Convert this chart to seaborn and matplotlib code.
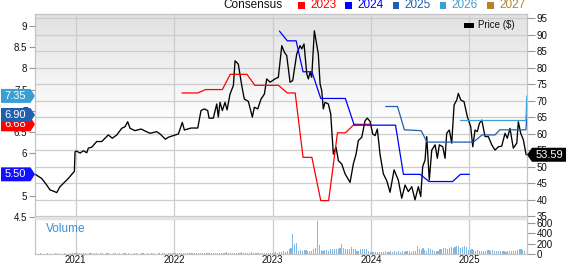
import numpy as np
import matplotlib
matplotlib.use("Agg")
import matplotlib.pyplot as plt
import seaborn as sns
from matplotlib.patches import Rectangle, Polygon

sns.set_style("white")
plt.rcParams['font.family'] = ['Liberation Sans', 'DejaVu Sans']

# ---------------- data (decimal years) ----------------
price_t = [2020.586, 2020.654, 2020.705, 2020.739, 2020.769, 2020.807, 2020.840, 2020.874, 2020.925, 2020.970,
           2020.986, 2020.993, 2021.008, 2021.044, 2021.077, 2021.112, 2021.128, 2021.163, 2021.213, 2021.264,
           2021.298, 2021.331, 2021.372, 2021.417, 2021.467, 2021.501, 2021.528, 2021.552, 2021.603, 2021.664,
           2021.704, 2021.755, 2021.823, 2021.857, 2021.911, 2021.941, 2021.992, 2022.043, 2022.083, 2022.104,
           2022.172, 2022.240, 2022.273, 2022.307, 2022.341, 2022.355, 2022.398, 2022.433, 2022.449, 2022.466,
           2022.490, 2022.517, 2022.538, 2022.568, 2022.602, 2022.619, 2022.652, 2022.687, 2022.713, 2022.754,
           2022.795, 2022.815, 2022.850, 2022.883, 2022.917, 2022.941, 2022.975, 2023.025, 2023.059, 2023.094,
           2023.120, 2023.144, 2023.178, 2023.205, 2023.246, 2023.280, 2023.297, 2023.320, 2023.348, 2023.364,
           2023.381, 2023.398, 2023.425, 2023.465, 2023.483, 2023.500, 2023.516, 2023.533, 2023.567, 2023.591,
           2023.618, 2023.645, 2023.669, 2023.703, 2023.737, 2023.788, 2023.821, 2023.849, 2023.872, 2023.907,
           2023.940, 2023.963, 2023.991, 2024.018, 2024.042, 2024.065, 2024.092, 2024.126, 2024.161, 2024.194,
           2024.235, 2024.278, 2024.313, 2024.347, 2024.380, 2024.415, 2024.448, 2024.482, 2024.506, 2024.526,
           2024.550, 2024.567, 2024.593, 2024.618, 2024.652, 2024.675, 2024.695, 2024.730, 2024.753, 2024.770,
           2024.797, 2024.821, 2024.845, 2024.872, 2024.888, 2024.913, 2024.946, 2024.980, 2025.014, 2025.035,
           2025.058, 2025.081, 2025.102, 2025.126, 2025.160, 2025.193, 2025.228, 2025.261, 2025.295, 2025.329,
           2025.363, 2025.386, 2025.413, 2025.447, 2025.482, 2025.498, 2025.522, 2025.549, 2025.577]
price_v = [47.7, 46.4, 44.4, 42.9, 42.6, 42.1, 43.9, 44.9, 46.4, 48.0,
           48.5, 54.5, 54.7, 54.1, 54.8, 54.2, 55.6, 55.9, 57.6, 57.6,
           58.6, 59.6, 58.6, 59.6, 61.6, 62.1, 63.6, 61.6, 60.9, 61.4,
           60.8, 60.1, 60.6, 59.9, 58.3, 58.9, 59.4, 59.9, 63.4, 61.1,
           61.7, 61.7, 67.0, 67.5, 67.0, 64.7, 64.7, 69.0, 65.0, 69.5,
           67.0, 69.5, 67.2, 72.0, 74.6, 82.1, 81.1, 74.6, 70.5, 69.8,
           65.0, 68.0, 67.5, 70.5, 72.0, 76.6, 75.6, 76.6, 77.1, 86.7,
           84.7, 83.7, 75.6, 76.1, 84.2, 86.7, 85.7, 87.2, 78.1, 76.6,
           78.6, 77.1, 91.2, 84.2, 75.1, 73.0, 67.5, 69.5, 69.0, 66.0,
           53.8, 55.9, 51.8, 50.8, 47.8, 45.2, 50.8, 53.8, 57.9, 58.9,
           63.9, 64.7, 63.7, 59.9, 59.4, 61.4, 53.8, 47.8, 45.7, 42.2,
           49.0, 45.9, 40.4, 44.4, 42.4, 43.9, 39.9, 43.9, 40.9, 50.0,
           52.0, 59.1, 45.9, 55.0, 56.6, 52.5, 56.6, 56.0, 52.5, 60.1,
           61.1, 57.1, 68.7, 70.2, 72.2, 70.2, 69.7, 65.1, 62.1, 56.0,
           61.1, 60.6, 63.1, 64.1, 59.1, 59.1, 56.6, 55.0, 56.0, 56.2,
           60.1, 58.6, 61.6, 55.6, 57.1, 63.6, 60.1, 58.1, 53.59]

c2023_t = [2022.08, 2022.24, 2022.32, 2022.49, 2022.57, 2022.74, 2022.82, 2023.06, 2023.15,
           2023.23, 2023.31, 2023.40, 2023.49, 2023.57, 2023.66, 2023.74, 2023.83, 2024.00]
c2023_v = [7.42, 7.42, 7.50, 7.50, 7.86, 7.86, 7.60, 7.60, 7.42,
           7.42, 5.90, 5.90, 4.88, 4.88, 6.48, 6.48, 6.68, 6.68]
c2024_t = [2023.07, 2023.15, 2023.24, 2023.31, 2023.40, 2023.49, 2023.74, 2023.83,
           2024.25, 2024.33, 2024.50, 2024.59, 2024.83, 2024.91, 2025.00]
c2024_v = [8.88, 8.65, 8.65, 7.92, 7.92, 7.29, 7.29, 6.66,
           6.66, 5.50, 5.50, 5.33, 5.33, 5.50, 5.50]
c2025_t = [2024.15, 2024.27, 2024.34, 2024.51, 2024.57, 2025.04, 2025.13, 2025.26, 2025.31, 2025.575, 2025.585]
c2025_v = [7.10, 7.10, 6.55, 6.53, 6.26, 6.26, 6.43, 6.43, 6.55, 6.55, 6.90]
c2026_t = [2024.91, 2025.575, 2025.585]
c2026_v = [6.77, 6.77, 7.35]

years = ['2023', '2024', '2025', '2026', '2027']
year_colors = ['#ff0000', '#0000ff', '#1f5fae', '#3a9fd4', '#b5812b']

# weekly volume (thousands), starting mid-Aug 2020
vol_v = [8, 6, 10, 7, 5, 9, 12, 6, 8, 7, 10, 14, 9, 6, 8, 11, 7, 9, 12, 15, 10,
         18, 25, 14, 12, 10, 16, 9, 11, 13, 8, 10, 12, 9,
         14, 11, 8, 10, 13, 9, 7, 12, 10, 8, 11, 9, 15,
         10, 8, 12, 9, 7, 10, 11, 8, 9, 13, 10, 8, 12,
         9, 11, 10, 7, 9, 12, 8, 10, 11, 9, 13, 10, 12,
         12, 15, 10, 18, 14, 11, 20, 13, 16, 12, 10, 14, 17,
         13, 11, 15, 19, 12, 14, 10, 16, 13, 18, 12, 15, 11,
         14, 17, 38, 13, 12, 16, 11, 15, 20, 13, 35, 12, 14,
         16, 11, 42, 13, 15, 18, 12, 14, 22, 16, 13, 19, 25,
         28, 22, 30, 25, 32, 45, 65, 40, 52, 104, 116, 395, 194, 213, 60, 75, 52, 70, 84, 52,
         60, 52, 90, 116, 647, 168, 84, 60, 75, 84, 60, 90, 100, 90, 97, 90, 110, 194, 116, 97,
         104, 90, 129, 104, 90, 65, 52, 97, 104, 104, 90, 52,
         45, 35, 40, 30, 48, 38, 42, 32, 50, 40, 36, 65, 45, 55, 40, 60, 48, 52, 42, 58,
         50, 62, 45, 55, 60, 149, 97, 70, 116, 84, 65, 116, 90, 75, 65, 52, 60, 90, 104, 110,
         116, 97, 110, 129, 110, 142, 149, 162, 120, 136, 149, 136, 84,
         70, 104, 75, 65, 70, 65, 58, 52, 60, 70, 84, 65, 70, 58, 52, 60, 50, 58, 52, 45,
         55, 60, 50, 58, 62, 70, 90, 97, 75, 60]
vol_t = list(2020.60 + np.arange(len(vol_v)) / 52.18)

x_ticks = [2021, 2022, 2023, 2024, 2025]
x_labels = ['2021', '2022', '2023', '2024', '2025']
price_ticks = list(range(35, 100, 5))
eps_ticks = [4.5, 5, 5.5, 6, 6.5, 7, 7.5, 8, 8.5, 9]
vol_ticks = [0, 200, 400, 600]

# ---------------- layout ----------------
W, H = 568, 264
fig = plt.figure(figsize=(W / 100, H / 100), dpi=100)


def px_rect(x0, y0, x1, y1):
    return [x0 / W, 1 - y1 / H, (x1 - x0) / W, (y1 - y0) / H]


XL = (2020.586, 2025.586)
grid_c = '#cccccc'
spine_c = '#c4c4c4'

ax = fig.add_axes(px_rect(35, 14, 527, 217))      # price axis (right)
axv = fig.add_axes(px_rect(35, 219, 527, 254))    # volume axis

# gradient background
g = np.ones((200, 1, 3))
ramp = np.clip(np.linspace(0, 1, 200) / 0.55, 0, 1)
shade = 0.885 + (1 - 0.885) * ramp
for k in range(3):
    g[:, 0, k] = shade
ax.imshow(g, extent=[0, 1, 0, 1], transform=ax.transAxes, aspect='auto', zorder=0,
          interpolation='bilinear')

sns.lineplot(x=price_t, y=price_v, ax=ax, color='black', linewidth=0.95,
             estimator=None, sort=False, zorder=4)

# EPS axis (left)
ax2 = ax.twinx()
for yr, tt, vv in zip(years, [c2023_t, c2024_t, c2025_t, c2026_t],
                      [c2023_v, c2024_v, c2025_v, c2026_v]):
    sns.lineplot(x=tt, y=vv, ax=ax2, color=year_colors[years.index(yr)], linewidth=0.9,
                 estimator=None, sort=False)

ax.set_xlim(*XL)
ax.set_ylim(34.7, 96.3)
ax.set_yticks(price_ticks)
ax.set_xticks(x_ticks)
ax.grid(True, color=grid_c, linewidth=0.9)
ax.set_axisbelow(True)
ax.yaxis.tick_right()
ax.tick_params(axis='y', which='both', right=True, left=False, labelleft=False, labelright=True,
               length=6, width=0.8, color='#999999', labelsize=7, pad=1, labelcolor='#111111')
ax.tick_params(axis='x', length=0, labelbottom=False)
ax.set_xlabel('')
ax.set_ylabel('')
for s in ax.spines.values():
    s.set_color(spine_c)
    s.set_linewidth(0.9)

ax2.set_xlim(*XL)
ax2.set_ylim(4.493, 9.283)
ax2.set_yticks(eps_ticks)
ax2.set_yticklabels(['%g' % v for v in eps_ticks])
ax2.yaxis.tick_left()
ax2.tick_params(axis='y', left=True, right=False, labelleft=True, labelright=False,
                length=4.5, width=0.8, color='#999999', labelsize=7, pad=1,
                labelcolor='#111111')
ax2.set_xlabel('')
ax2.set_ylabel('')
ax2.grid(False)
for s in ax2.spines.values():
    s.set_visible(False)

# volume
axv.set_facecolor('white')
sns.barplot(x=vol_t, y=vol_v, ax=axv, native_scale=True, color='#7fb9e4', saturation=1,
            width=0.6, linewidth=0, errorbar=None)
axv.set_xlim(*XL)
axv.set_ylim(0, 680)
axv.set_yticks(vol_ticks)
axv.set_xticks(x_ticks)
axv.set_xticklabels(x_labels)
axv.yaxis.tick_right()
axv.tick_params(axis='y', right=True, left=False, length=6, width=0.8, color='#999999',
                labelsize=7, pad=1, labelcolor='#111111')
axv.tick_params(axis='x', length=0, labelsize=7, pad=0.5, labelcolor='#111111')
axv.grid(True, axis='x', color=grid_c, linewidth=0.9)
axv.grid(False, axis='y')
axv.set_axisbelow(True)
axv.set_xlabel('')
axv.set_ylabel('')
for s in axv.spines.values():
    s.set_color(spine_c)
    s.set_linewidth(0.9)
axv.text(0.022, 0.71, 'Volume', transform=axv.transAxes, color='#3b8fd4', fontsize=8.5,
         ha='left', va='center')

# gray band between panels
fig.add_artist(Rectangle((35 / W, 1 - 219.5 / H), 492 / W, 2.5 / H, transform=fig.transFigure,
                         facecolor='#e4e4e4', edgecolor='none', zorder=1))

# ---------------- top legend ----------------
fig.text(223 / W, 1 - 5.5 / H, 'Consensus', fontsize=8.5, color='#111111', ha='left', va='center')
for i, (yr, col) in enumerate(zip(years, year_colors)):
    sx = 298 + i * 47.3
    fig.add_artist(Rectangle((sx / W, 1 - 8.6 / H), 6.5 / W, 7 / H, transform=fig.transFigure,
                             facecolor=col, edgecolor='none'))
    fig.text((sx + 12) / W, 1 - 5.5 / H, yr, fontsize=8.5, color=col, ha='left', va='center')

# price legend inside
fig.add_artist(Rectangle((464 / W, 1 - 27.5 / H), 10 / W, 5 / H, transform=fig.transFigure,
                         facecolor='black', edgecolor='none', zorder=3))
fig.text(478 / W, 1 - 25 / H, 'Price ($)', fontsize=7, color='#111111', ha='left', va='center',
         zorder=3)

# ---------------- value tags ----------------
fig.canvas.draw()
zc = 5


def tag(value, axis, color, side, text):
    global zc
    yc = axis.transData.transform((XL[0], value))[1]
    hh = 7
    if side == 'left':
        pts = [(1, yc - hh), (30.5, yc - hh), (35, yc), (30.5, yc + hh), (1, yc + hh)]
        tx = 15.5
    else:
        pts = [(527, yc), (532, yc - hh), (566, yc - hh), (566, yc + hh), (532, yc + hh)]
        tx = 549
    pts = [(x / W, y / H) for x, y in pts]
    fig.add_artist(Polygon(pts, closed=True, transform=fig.transFigure, facecolor=color,
                           edgecolor='none', zorder=zc))
    fig.text(tx / W, yc / H, text, fontsize=8, color='white', ha='center', va='center',
             zorder=zc + 1)
    zc += 2


tag(6.68, ax2, '#ff0000', 'left', '6.68')
tag(6.90, ax2, '#1f5fae', 'left', '6.90')
tag(7.35, ax2, '#3a9fd4', 'left', '7.35')
tag(5.50, ax2, '#1010ff', 'left', '5.50')
tag(53.59, ax, '#000000', 'right', '53.59')

fig.savefig('out.png', dpi=100)
